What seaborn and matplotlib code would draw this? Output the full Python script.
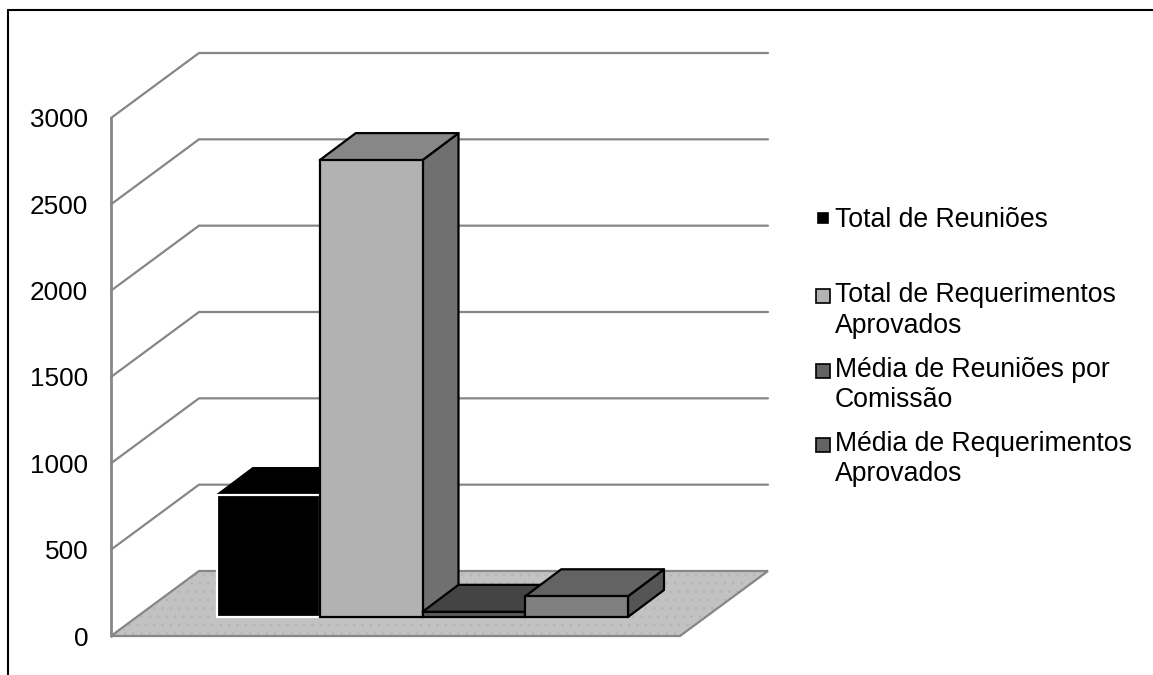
import matplotlib
matplotlib.use("Agg")
import matplotlib.pyplot as plt
from matplotlib.lines import Line2D
from matplotlib.patches import Polygon
import numpy as np
import pandas as pd
import seaborn as sns

categories = ["Total de Reuniões", "Total de Requerimentos\nAprovados",
              "Média de Reuniões por\nComissão", "Média de Requerimentos\nAprovados"]
values = [706, 2646, 30, 120]
y_ticks = [0, 500, 1000, 1500, 2000, 2500, 3000]
front_colors = ["#000000", "#b2b2b2", "#5c5c5c", "#808080"]
top_colors = ["#000000", "#878787", "#444444", "#636363"]
side_colors = ["#000000", "#707070", "#3c3c3c", "#555555"]
edge_colors = ["#ffffff", "#000000", "#000000", "#000000"]
legend_colors = ["#000000", "#b2b2b2", "#636363", "#636363"]
legend_sizes = [6.8, 9.4, 9.4, 9.4]
legend_y_px = [220, 310.5, 385, 459]

W, H = 1153, 675
sns.set_theme(style="white")
plt.rcParams["font.family"] = ["Liberation Sans", "DejaVu Sans"]
fig = plt.figure(figsize=(W / 100, H / 100), dpi=100, facecolor="white")

# plot box in pixels
L, R, T, B = 111, 768, 53, 636
ax = fig.add_axes([L / W, 1 - B / H, (R - L) / W, (B - T) / H])
px_per_unit = (636 - 118) / 3000
px_per_cat = 102.75
ax.set_ylim(0, (B - T) / px_per_unit)
ax.set_xlim(-0.5 - (217 - L) / px_per_cat, -0.5 + (R - 217) / px_per_cat)

depth_x, depth_y = 88 / px_per_cat, 65 / px_per_unit   # wall depth
bar_dx, bar_dy = 36 / px_per_cat, 27 / px_per_unit     # bar depth
base = 19 / px_per_unit                                # bars stand inside the floor
x0, x1 = ax.get_xlim()

# floor
floor = [(x0, 0), (x0 + depth_x, depth_y), (x1, depth_y), (x1 - depth_x, 0)]
plt.rcParams["hatch.linewidth"] = 0.5
plt.rcParams["hatch.color"] = "#acb4c0"
ax.add_patch(Polygon(floor, closed=True, facecolor="#c2c2c2", edgecolor="#acb4c0",
                     hatch="..", lw=0, zorder=1))
ax.add_patch(Polygon(floor, closed=True, facecolor="none", edgecolor="#868686",
                     lw=1.6, zorder=1.1, clip_on=False))

# walls and grid
grid_c = "#868686"
for t in y_ticks:
    xs = [x0, x0 + depth_x, x1]
    ys = [t, t + depth_y, t + depth_y]
    if t == 0:
        continue
    ax.plot(xs, ys, color=grid_c, lw=1.6, zorder=1.2, clip_on=False, solid_joinstyle="miter")
ax.plot([x0, x0], [0, 3000], color=grid_c, lw=2, zorder=1.2, clip_on=False)

# bars
df = pd.DataFrame({"categoria": categories, "valor": values})
sns.barplot(data=df, x="categoria", y="valor", hue="categoria", palette=front_colors,
            width=1.0, dodge=False, legend=False, bottom=base, ax=ax, zorder=5,
            saturation=1)
ax.set_xlim(x0, x1)
ax.set_ylim(0, (B - T) / px_per_unit)

bars = [b for cont in ax.containers for b in cont]
for i, bar in enumerate(bars):
    bx, by, bw, bh = bar.get_x(), bar.get_y(), bar.get_width(), bar.get_height()
    z = 5 + i
    ec, lw = edge_colors[i], 1.6
    bar.set_edgecolor(ec)
    bar.set_linewidth(lw)
    bar.set_zorder(z + 0.5)
    bar.set_joinstyle("miter")
    top = [(bx, by + bh), (bx + bw, by + bh), (bx + bw + bar_dx, by + bh + bar_dy),
           (bx + bar_dx, by + bh + bar_dy)]
    side = [(bx + bw, by), (bx + bw + bar_dx, by + bar_dy),
            (bx + bw + bar_dx, by + bh + bar_dy), (bx + bw, by + bh)]
    ax.add_patch(Polygon(side, closed=True, facecolor=side_colors[i], edgecolor="#000000",
                         lw=lw, zorder=z, joinstyle="round"))
    ax.add_patch(Polygon(top, closed=True, facecolor=top_colors[i],
                         edgecolor="#000000", lw=lw, zorder=z + 0.2, joinstyle="round"))

# axes dressing
sns.despine(ax=ax, left=True, bottom=True, top=True, right=True)
ax.patch.set_alpha(0)
ax.set_xlabel("")
ax.set_ylabel("")
ax.set_xticks([])
ax.set_yticks(y_ticks)
ax.set_yticklabels([str(t) for t in y_ticks])
ax.tick_params(axis="y", length=0, pad=16.5, labelsize=18.8, labelcolor="#000000")

# legend: one entry per block, spaced as in the source
for lab, c, ms, yp in zip(categories, legend_colors, legend_sizes, legend_y_px):
    h = Line2D([], [], marker="s", ls="none", color=c, markersize=ms,
               markeredgecolor="#000000" if c != "#000000" else c,
               markeredgewidth=1.2)
    leg = fig.legend([h], [lab], loc="center left",
                     bbox_to_anchor=(813 / W, 1 - yp / H), frameon=False,
                     fontsize=19.2, handlelength=0.75, handletextpad=0.075,
                     borderpad=0, borderaxespad=0, labelcolor="#000000")
    for txt in leg.get_texts():
        txt.set_linespacing(1.21)
    if "\n" in lab:  # the marker sits beside the first line of a two-line entry
        mk = leg.legend_handles[0]
        mk.set_ydata(np.asarray(mk.get_ydata()) + 10.8)

# frame of the picture: only top and left are visible
fig.add_artist(Line2D([7.5 / W, 1], [1 - 9.5 / H, 1 - 9.5 / H], color="#000000", lw=1.5))
fig.add_artist(Line2D([7.5 / W, 7.5 / W], [0, 1 - 9.5 / H], color="#000000", lw=1.5))

fig.savefig("out.png", dpi=100, facecolor="white")
